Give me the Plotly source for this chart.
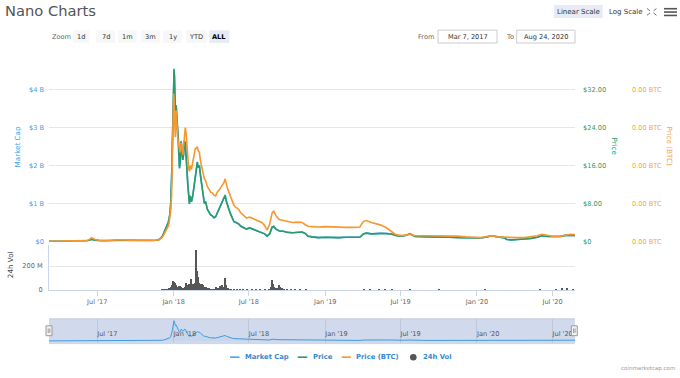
import plotly.graph_objects as go

# ---------------- data ----------------
dates = [
 "2017-03-07","2017-03-25","2017-04-10","2017-04-25","2017-05-10","2017-05-25","2017-06-05","2017-06-12",
 "2017-06-17","2017-06-21","2017-06-26","2017-07-05","2017-07-15","2017-07-25","2017-08-05","2017-08-14",
 "2017-08-22","2017-09-01","2017-09-10","2017-09-20","2017-10-01","2017-10-15","2017-10-30","2017-11-10",
 "2017-11-20","2017-11-26","2017-12-01","2017-12-05","2017-12-09","2017-12-13","2017-12-16","2017-12-19",
 "2017-12-21","2017-12-23","2017-12-25","2017-12-27","2017-12-28","2017-12-29","2017-12-30","2017-12-31",
 "2018-01-01","2018-01-02","2018-01-03","2018-01-04","2018-01-05","2018-01-07","2018-01-09","2018-01-11",
 "2018-01-13","2018-01-15","2018-01-17","2018-01-19","2018-01-21","2018-01-23","2018-01-25","2018-01-27",
 "2018-01-29","2018-01-31","2018-02-02","2018-02-04","2018-02-06","2018-02-08","2018-02-10","2018-02-13",
 "2018-02-16","2018-02-19","2018-02-22","2018-02-25","2018-02-27","2018-03-01","2018-03-04","2018-03-07",
 "2018-03-10","2018-03-13","2018-03-16","2018-03-19","2018-03-23","2018-03-27","2018-03-31","2018-04-04",
 "2018-04-08","2018-04-12","2018-04-16","2018-04-20","2018-04-24","2018-04-28","2018-05-02","2018-05-05",
 "2018-05-08","2018-05-11","2018-05-14","2018-05-18","2018-05-22","2018-05-26","2018-05-31","2018-06-06",
 "2018-06-12","2018-06-18","2018-06-25","2018-07-03","2018-07-12","2018-07-22","2018-08-01","2018-08-08",
 "2018-08-14","2018-08-20","2018-08-26","2018-08-30","2018-09-04","2018-09-12","2018-09-22","2018-10-02",
 "2018-10-14","2018-10-26","2018-11-06","2018-11-14","2018-11-20","2018-12-01","2018-12-15","2019-01-01",
 "2019-01-16","2019-02-01","2019-02-20","2019-03-10","2019-03-25","2019-04-03","2019-04-10","2019-04-22",
 "2019-05-05","2019-05-15","2019-05-28","2019-06-08","2019-06-18","2019-06-28","2019-07-10","2019-07-24",
 "2019-08-05","2019-08-25","2019-09-15","2019-10-05","2019-10-25","2019-11-15","2019-12-05","2019-12-25",
 "2020-01-10","2020-01-25","2020-02-05","2020-02-20","2020-03-05","2020-03-13","2020-03-25","2020-04-08",
 "2020-04-24","2020-05-10","2020-05-25","2020-06-05","2020-06-20","2020-07-05","2020-07-20","2020-08-01",
 "2020-08-13","2020-08-24",
]

market_cap_b = [
 0.002,0.002,0.003,0.003,0.004,0.006,0.012,0.03,
 0.058,0.045,0.03,0.02,0.014,0.012,0.016,0.026,
 0.03,0.028,0.02,0.018,0.022,0.016,0.018,0.022,
 0.03,0.045,0.09,0.14,0.24,0.33,0.4,0.5,
 0.6,0.72,1.0,1.45,2.0,2.6,3.3,3.8,
 4.15,4.56,4.35,3.9,3.45,3.6,3.2,3.05,
 2.6,1.95,2.1,2.65,2.45,2.15,2.3,2.65,
 2.6,2.35,1.9,1.5,1.15,1.0,1.2,1.05,
 1.2,1.45,1.65,1.95,2.1,1.95,2.0,1.7,
 1.45,1.2,1.0,1.05,0.85,0.78,0.7,0.68,
 0.62,0.65,0.75,0.85,0.95,1.05,1.15,1.23,
 1.05,0.92,0.85,0.72,0.6,0.52,0.5,0.47,
 0.4,0.37,0.33,0.36,0.32,0.28,0.25,0.2,
 0.14,0.2,0.38,0.4,0.33,0.28,0.27,0.24,
 0.23,0.24,0.25,0.21,0.14,0.12,0.1,0.11,
 0.1,0.1,0.11,0.1,0.11,0.2,0.22,0.2,
 0.21,0.22,0.21,0.2,0.16,0.14,0.15,0.2,
 0.13,0.12,0.11,0.12,0.11,0.1,0.09,0.08,
 0.09,0.12,0.15,0.12,0.1,0.05,0.04,0.05,
 0.06,0.08,0.11,0.15,0.13,0.12,0.13,0.16,
 0.17,0.16,
]

price_usd = [
 0.015,0.016,0.02,0.025,0.03,0.045,0.09,0.24,
 0.46,0.36,0.24,0.16,0.11,0.1,0.13,0.21,
 0.24,0.22,0.16,0.14,0.17,0.13,0.14,0.18,
 0.24,0.36,0.7,1.1,1.9,2.6,3.2,4.0,
 4.8,5.8,8.0,11.6,16.0,20.8,26.4,30.4,
 33.2,36.2,34.6,31.2,27.6,28.6,25.6,24.4,
 20.8,15.4,16.8,21.0,19.6,17.2,18.4,21.2,
 20.8,18.8,15.2,12.0,9.2,7.9,9.6,8.4,
 9.6,11.6,13.2,15.6,16.7,15.6,16.0,13.6,
 11.6,9.6,8.0,8.4,6.8,6.2,5.6,5.4,
 5.0,5.2,6.0,6.8,7.6,8.4,9.2,9.7,
 8.4,7.4,6.8,5.8,4.8,4.2,4.0,3.7,
 3.2,2.95,2.6,2.85,2.55,2.2,1.98,1.6,
 1.1,1.58,3.0,3.15,2.6,2.2,2.15,1.9,
 1.82,1.9,1.98,1.66,1.1,0.95,0.8,0.87,
 0.8,0.8,0.87,0.8,0.87,1.58,1.74,1.6,
 1.67,1.74,1.66,1.58,1.27,1.12,1.2,1.58,
 1.04,0.96,0.88,0.95,0.88,0.8,0.72,0.64,
 0.72,0.95,1.19,0.96,0.8,0.4,0.32,0.4,
 0.48,0.64,0.87,1.19,1.04,0.96,1.03,1.27,
 1.35,1.27,
]

price_btc = [
 0.0000015,0.0000015,0.000002,0.000002,0.0000025,0.000004,0.00001,0.000025,
 0.00005,0.00004,0.000025,0.0000175,0.0000125,0.00001,0.0000125,0.00002,
 0.0000225,0.00002,0.000015,0.000015,0.000015,0.0000125,0.0000125,0.000015,
 0.000015,0.00002,0.000035,0.000055,0.000095,0.000135,0.00016,0.0002,
 0.00024,0.0003,0.00041,0.0006,0.00081,0.0011,0.00145,0.00175,
 0.00195,0.001875,0.00165,0.001475,0.001375,0.001725,0.00145,0.00135,
 0.001275,0.001225,0.001175,0.0013,0.00125,0.00114,0.0013,0.00145,
 0.0015,0.001425,0.00125,0.0011,0.000975,0.000925,0.001,0.00095,
 0.00105,0.00115,0.001225,0.001225,0.00125,0.0012,0.001175,0.00105,
 0.000975,0.0009,0.000825,0.0008,0.000725,0.00069,0.00065,0.00064,
 0.00061,0.0006,0.00065,0.000675,0.00071,0.00075,0.000775,0.000825,
 0.00075,0.00069,0.00065,0.00059,0.000525,0.000475,0.00045,0.000425,
 0.000375,0.00035,0.00031,0.00032,0.0003,0.00028,0.00025,0.00021,
 0.00015,0.000225,0.000375,0.0004,0.00034,0.00029,0.000275,0.00026,
 0.00025,0.000255,0.00025,0.00022,0.0002,0.000195,0.00019,0.000195,
 0.00019,0.00019,0.000185,0.000185,0.00019,0.000265,0.000275,0.00025,
 0.000235,0.000215,0.00018,0.00013,0.000095,0.00008,0.00008,0.000095,
 0.000075,0.000075,0.000075,0.000075,0.000075,0.00007,0.00006,0.00005,
 0.00005,0.000065,0.000075,0.00006,0.000055,0.00005,0.00005,0.00005,
 0.00005,0.00006,0.000075,0.000095,0.000075,0.000065,0.00007,0.000085,
 0.000095,0.00009,
]

vol_dates = [
 "2017-12-05","2017-12-10","2017-12-15","2017-12-19","2017-12-22","2017-12-25","2017-12-28","2017-12-31",
 "2018-01-02","2018-01-04","2018-01-06","2018-01-08","2018-01-10","2018-01-12","2018-01-14","2018-01-16",
 "2018-01-18","2018-01-20","2018-01-23","2018-01-26","2018-01-29","2018-02-01","2018-02-03","2018-02-05",
 "2018-02-07","2018-02-09","2018-02-11","2018-02-13","2018-02-15","2018-02-17","2018-02-19","2018-02-21",
 "2018-02-23","2018-02-24","2018-02-26","2018-02-28","2018-03-02","2018-03-04","2018-03-06","2018-03-08",
 "2018-03-10","2018-03-12","2018-03-15","2018-03-18","2018-03-21","2018-03-24","2018-03-28","2018-04-01",
 "2018-04-05","2018-04-09","2018-04-13","2018-04-16","2018-04-19","2018-04-22","2018-04-25","2018-04-28",
 "2018-05-01","2018-05-04","2018-05-06","2018-05-08","2018-05-11","2018-05-15","2018-05-20","2018-05-26",
 "2018-06-02","2018-06-10","2018-06-18","2018-06-28","2018-07-08","2018-07-18","2018-07-28","2018-08-08",
 "2018-08-18","2018-08-24","2018-08-27","2018-08-29","2018-09-01","2018-09-04","2018-09-08","2018-09-12",
 "2018-09-15","2018-09-19","2018-09-25","2018-10-02","2018-10-10","2018-10-20","2018-11-01","2018-11-15",
 "2019-04-05","2019-04-20","2019-05-10","2019-05-25","2019-06-10","2019-07-24","2019-10-01","2020-01-20",
 "2020-06-01","2020-07-10","2020-07-25","2020-08-05","2020-08-20",
]

vol_m = [
 2,4,6,10,15,25,45,78,
 70,60,40,35,30,28,38,35,
 25,22,20,18,25,58,30,40,
 52,35,90,40,45,55,35,60,
 340,240,160,110,78,60,50,48,
 55,40,28,22,25,18,15,8,
 6,5,30,15,20,35,28,40,
 30,60,104,40,22,12,8,6,
 5,7,4,5,6,4,5,4,
 8,30,85,50,30,22,18,41,
 25,15,8,5,4,5,4,3,
 8,6,10,12,6,8,4,4,
 5,12,18,15,10,
]

mcap_ticks = [0, 1, 2, 3, 4]
mcap_labels = ["$0", "$1 B", "$2 B", "$3 B", "$4 B"]
price_ticks = [0, 8, 16, 24, 32]
price_labels = ["$0", "$8.00", "$16.00", "$24.00", "$32.00"]
btc_ticks = [0, 0.0005, 0.001, 0.0015, 0.002]
btc_labels = ["0.00 BTC"] * 5
vol_ticks = [0, 200]
vol_labels = ["0", "200 M"]
zoom_buttons = ["1d", "7d", "1m", "3m", "1y", "YTD", "ALL"]
legend_items = ["Market Cap", "Price", "Price (BTC)", "24h Vol"]

# ---------------- styling ----------------
W, H = 680, 378
FONT = "DejaVu Sans"
C_MCAP = "#45a7ef"
C_PRICE = "#2a9a6b"
C_BTC = "#f7972f"
C_VOL = "#575757"
C_MCAP_TXT = "#3ba1ec"
C_BTC_TXT = "#f6a443"
TICK = 6.6


def px(x):
    return x / W


def py(y):
    return 1 - y / H


XDOM = [px(49), px(575)]
RANGE = ["2017-03-07", "2020-08-24"]

fig = go.Figure()
fig.add_trace(go.Scatter(x=dates, y=market_cap_b, xaxis="x", yaxis="y", mode="lines",
                         line=dict(color=C_MCAP, width=1.6), name=legend_items[0]))
fig.add_trace(go.Scatter(x=dates, y=price_usd, xaxis="x", yaxis="y4", mode="lines",
                         line=dict(color=C_PRICE, width=1.6), name=legend_items[1]))
fig.add_trace(go.Scatter(x=dates, y=price_btc, xaxis="x", yaxis="y5", mode="lines",
                         line=dict(color=C_BTC, width=1.6), name=legend_items[2]))
fig.add_trace(go.Bar(x=vol_dates, y=vol_m, xaxis="x", yaxis="y2", name=legend_items[3],
                     marker=dict(color=C_VOL, line=dict(width=0)), width=3.0 * 86400000))
fig.add_trace(go.Scatter(x=dates, y=market_cap_b, xaxis="x2", yaxis="y3", mode="lines",
                         line=dict(color="#3f9be0", width=1), fill="tozeroy",
                         fillcolor="rgba(63,155,224,0.06)", name="nav"))

tickfont = dict(family=FONT, size=TICK, color="#666666")

fig.update_layout(
    width=W, height=H, autosize=False,
    margin=dict(l=0, r=0, t=0, b=0),
    paper_bgcolor="white", plot_bgcolor="white",
    showlegend=False, bargap=0,
    font=dict(family=FONT, size=TICK, color="#666666"),
    xaxis=dict(domain=XDOM, anchor="y2", type="date", range=RANGE,
               tick0="2017-07-01", dtick="M6", tickformat="%b '%y",
               showgrid=False, zeroline=False, showline=True, linecolor="#ccd6eb", linewidth=1,
               ticks="outside", ticklen=5, tickcolor="#ccd6eb", tickfont=tickfont),
    yaxis=dict(domain=[py(244), py(62)], anchor="x", range=[0, 4.75],
               tickmode="array", tickvals=mcap_ticks, ticktext=mcap_labels,
               showgrid=True, gridcolor="#e6e6e6", gridwidth=1, zeroline=False, showline=False,
               ticks="", ticklabelstandoff=4,
               tickfont=dict(family=FONT, size=TICK, color=C_MCAP_TXT)),
    yaxis2=dict(domain=[py(293), py(247.4)], anchor="x", range=[0, 380],
                tickmode="array", tickvals=vol_ticks, ticktext=vol_labels,
                showgrid=True, gridcolor="#e6e6e6", zeroline=False,
                showline=True, linecolor="#ccd6eb", linewidth=1,
                ticks="", ticklabelstandoff=4, tickfont=tickfont),
    yaxis4=dict(overlaying="y", side="right", anchor="x", range=[0, 38],
                tickmode="array", tickvals=price_ticks, ticktext=price_labels,
                showgrid=False, zeroline=False, showline=False, ticks="", ticklabelstandoff=7,
                tickfont=dict(family=FONT, size=TICK, color=C_PRICE)),
    yaxis5=dict(overlaying="y", side="right", anchor="free", position=px(624), range=[0, 0.002375],
                tickmode="array", tickvals=btc_ticks, ticktext=btc_labels,
                showgrid=False, zeroline=False, showline=False, ticks="", ticklabelstandoff=7,
                tickfont=dict(family=FONT, size=TICK, color=C_BTC_TXT)),
    xaxis2=dict(domain=XDOM, anchor="y3", type="date", range=RANGE,
                tick0="2017-07-01", dtick="M6", tickformat="%b '%y",
                ticklabelposition="inside right", showgrid=True, gridcolor="#bfc8da",
                zeroline=False, showline=False, ticks="",
                tickfont=dict(family=FONT, size=TICK, color="#555555")),
    yaxis3=dict(domain=[py(347), py(322)], anchor="x2", range=[-0.55, 5.05],
                showticklabels=False, showgrid=False, zeroline=False, showline=False),
)

shapes = []
annots = []


def text(t, x, y, size=TICK, color="#666666", xanchor="left", bold=False, angle=0, family=FONT):
    annots.append(dict(text=("<b>%s</b>" % t) if bold else t, x=px(x), y=py(y), xref="paper", yref="paper",
                       xanchor=xanchor, yanchor="middle", showarrow=False, textangle=angle,
                       font=dict(family=family, size=size, color=color)))


def rect(x0, y0, x1, y1, fill, line=None, lw=0, layer="above"):
    shapes.append(dict(type="rect", xref="paper", yref="paper", x0=px(x0), x1=px(x1), y0=py(y1), y1=py(y0),
                       fillcolor=fill, line=dict(color=line or fill, width=lw), layer=layer))


def seg(x0, y0, x1, y1, color, w=1):
    shapes.append(dict(type="line", xref="paper", yref="paper", x0=px(x0), x1=px(x1), y0=py(y0), y1=py(y1),
                       line=dict(color=color, width=w)))


# title
text("Nano Charts", 3, 11, size=14.7, color="#555555")

# zoom buttons
text("Zoom", 50, 37, color="#666666")
btn_x = [(73.3, 89.3), (96, 115), (118.3, 136.7), (141, 160), (163.3, 181.7), (186, 206.7), (209.3, 229.3)]
for lab, (a, b) in zip(zoom_buttons, btn_x):
    active = lab == "ALL"
    rect(a, 30.7, b, 43.3, "#e6ebf5" if active else "#f7f7f7")
    text(lab, (a + b) / 2, 37, color="#000000" if active else "#333333", xanchor="center", bold=active)

# scale buttons
rect(554, 5, 602.7, 18.3, "#e6ebf5")
text("Linear Scale", 578.3, 11.7, size=7, color="#333333", xanchor="center")
text("Log Scale", 607, 11.7, size=7, color="#333333")
# fullscreen icon
for (ax, ay, bx, by) in [(647, 8.5, 650, 11), (656.5, 8.5, 653.5, 11), (647, 15.5, 650, 13), (656.5, 15.5, 653.5, 13)]:
    seg(ax, ay, bx, by, "#777777", 1)
# menu icon
for yy in (8.8, 12.2, 15.6):
    seg(664, yy, 677, yy, "#555555", 1.6)

# date inputs
text("From", 416, 37, color="#666666")
rect(438, 30.5, 497, 43.5, "white", "#cccccc", 1)
text("Mar 7, 2017", 467.5, 37, color="#333333", xanchor="center")
text("To", 504, 37, color="#666666")
rect(516.7, 30.5, 575, 43.5, "white", "#cccccc", 1)
text("Aug 24, 2020", 545.8, 37, color="#333333", xanchor="center")

# axis titles
text("Market Cap", 17, 149, size=7.2, color=C_MCAP_TXT, xanchor="center", angle=-90)
text("Price", 615, 148, size=7.2, color=C_PRICE, xanchor="center", angle=90)
text("Price (BTC)", 670, 148, size=7.2, color=C_BTC_TXT, xanchor="center", angle=90)
text("24h Vol", 10, 268, size=7.2, color="#444444", xanchor="center", angle=-90)

# navigator mask, outline, handles
shapes.append(dict(type="rect", xref="x2 domain", yref="y3 domain", x0=0, x1=1, y0=0, y1=1,
                   fillcolor="#d1daed", line=dict(width=0), layer="below"))
seg(49, 322.3, 575, 322.3, "#c4c9d4", 0.8)
seg(49, 347.3, 575, 347.3, "#c4c9d4", 0.8)
for hx in (49, 574.3):
    rect(hx - 3, 329.3, hx + 3, 339.3, "#f2f2f2", "#999999", 1)
    seg(hx - 0.8, 332, hx - 0.8, 336.5, "#888888", 0.8)
    seg(hx + 0.8, 332, hx + 0.8, 336.5, "#888888", 0.8)

# legend
LEG = "#3a87cf"
leg_y = 361
seg(230, leg_y, 239.5, leg_y, C_MCAP, 1.6)
text(legend_items[0], 242.7, leg_y, size=6.8, color=LEG, bold=True)
seg(297.7, leg_y, 307.3, leg_y, C_PRICE, 1.6)
text(legend_items[1], 310.7, leg_y, size=6.8, color=LEG, bold=True)
seg(341.7, leg_y, 350.9, leg_y, C_BTC, 1.6)
text(legend_items[2], 354.3, leg_y, size=6.8, color=LEG, bold=True)
shapes.append(dict(type="circle", xref="paper", yref="paper", x0=px(410), x1=px(416.6), y0=py(364.3), y1=py(357.7),
                   fillcolor="#555555", line=dict(width=0)))
text(legend_items[3], 420.7, leg_y, size=6.8, color=LEG, bold=True)

# credits
text("coinmarketcap.com", 676.7, 372.7, size=5.5, color="#999999", xanchor="right")

fig.update_layout(shapes=shapes, annotations=annots)
fig.write_html("out.html", config={"displayModeBar": False},
               post_script="document.body.style.margin='0';document.body.style.padding='0';")
